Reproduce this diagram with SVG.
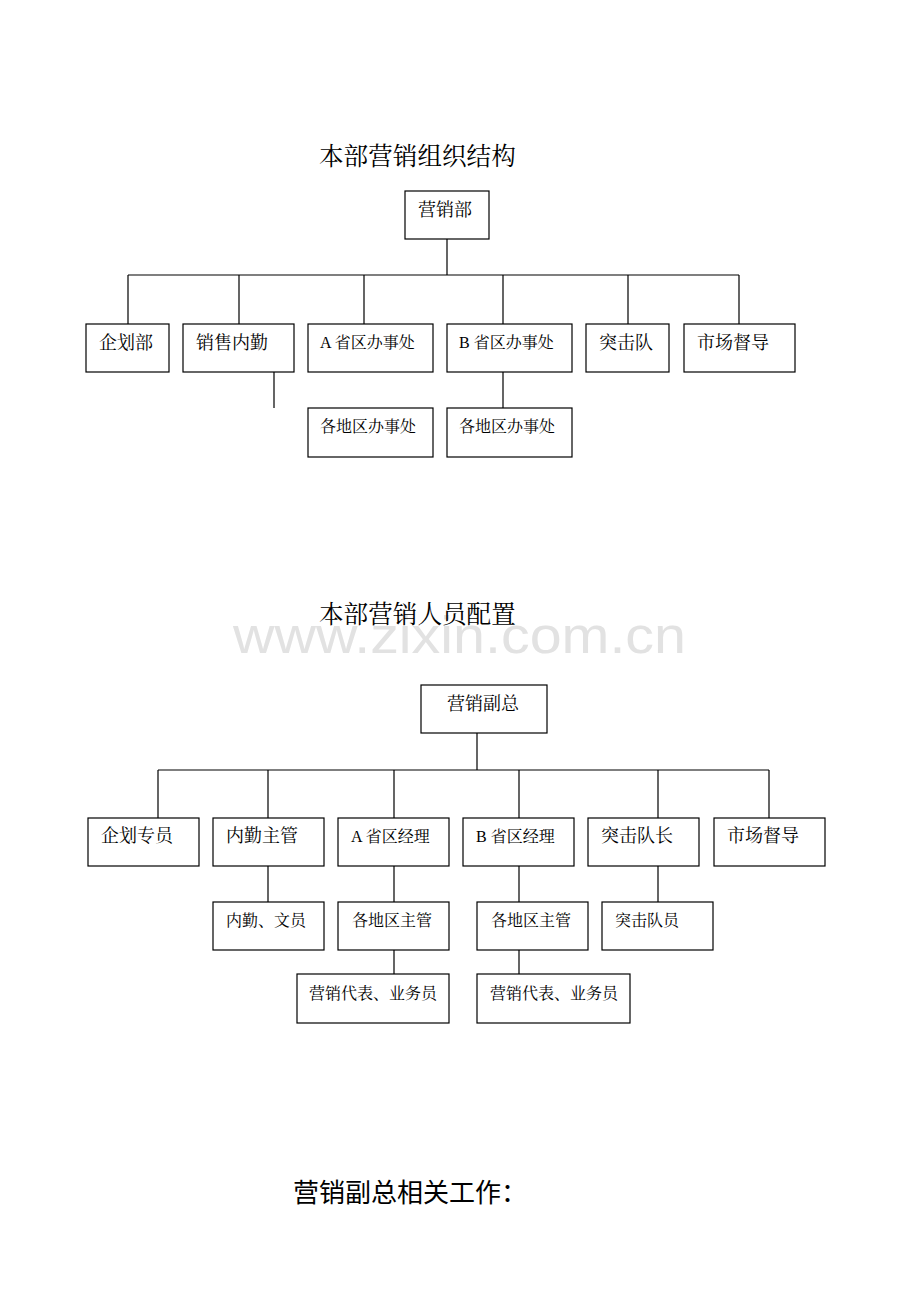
<svg xmlns="http://www.w3.org/2000/svg" width="920" height="1302" viewBox="0 0 920 1302">
<style>
.bg{fill:#fff}
.box{fill:#fff;stroke:#000;stroke-width:1.2}
.ln{stroke:#000;stroke-width:1.2;fill:none}
.t{font-family:"Liberation Serif","Noto Serif CJK SC","Noto Sans CJK SC",serif;fill:#000}
.t18{font-size:18px}
.t16{font-size:16px}
.title{font-family:"Liberation Serif","Noto Serif CJK SC","Noto Sans CJK SC",serif;font-size:24.6px;fill:#000}
.wm{font-family:"Liberation Sans","Noto Sans",sans-serif;font-size:52px;fill:#e2e2e2}
.h3{font-family:"Noto Sans CJK SC",sans-serif;font-size:26px;font-weight:400;fill:#000}
</style>
<rect class="bg" x="0" y="0" width="920" height="1302"/>

<text class="title" x="319" y="165">本部营销组织结构</text>

<g id="connectors1">
<path class="ln" d="M447 239V275M128 275H739M128 275V324M239 275V324M364 275V324M503 275V324M628 275V324M739 275V324M274 372V408M503 372V408"/>
</g>
<g id="n_yxb"><rect class="box" x="405" y="191" width="84" height="48"/><text class="t t18" x="418" y="216">营销部</text></g>
<g id="n_qhb"><rect class="box" x="86" y="324" width="83" height="48"/><text class="t t18" x="99" y="349">企划部</text></g>
<g id="n_xsnq"><rect class="box" x="183" y="324" width="111" height="48"/><text class="t t18" x="196" y="349">销售内勤</text></g>
<g id="n_a"><rect class="box" x="308" y="324" width="125" height="48"/><text class="t t16" x="320" y="348">A 省区办事处</text></g>
<g id="n_b"><rect class="box" x="447" y="324" width="125" height="48"/><text class="t t16" x="459" y="348">B 省区办事处</text></g>
<g id="n_tjd"><rect class="box" x="586" y="324" width="83" height="48"/><text class="t t18" x="599" y="349">突击队</text></g>
<g id="n_scdd"><rect class="box" x="684" y="324" width="111" height="48"/><text class="t t18" x="697" y="349">市场督导</text></g>
<g id="n_gdq1"><rect class="box" x="308" y="408" width="125" height="49"/><text class="t t16" x="320" y="432">各地区办事处</text></g>
<g id="n_gdq2"><rect class="box" x="447" y="408" width="125" height="49"/><text class="t t16" x="459" y="432">各地区办事处</text></g>

<text class="wm" x="233" y="653" textLength="453" lengthAdjust="spacingAndGlyphs">www.zixin.com.cn</text>
<text class="title" x="319" y="623">本部营销人员配置</text>

<g id="connectors2">
<path class="ln" d="M477 733V770M158 770H769M158 770V818M268 770V818M394 770V818M519 770V818M658 770V818M769 770V818M268 866V902M394 866V902M519 866V902M658 866V902M394 950V974M519 950V974"/>
</g>
<g id="m_yxfz"><rect class="box" x="421" y="685" width="126" height="48"/><text class="t t18" x="447" y="710">营销副总</text></g>
<g id="m_qhzy"><rect class="box" x="88" y="818" width="111" height="48"/><text class="t t18" x="101" y="842">企划专员</text></g>
<g id="m_nqzg"><rect class="box" x="213" y="818" width="111" height="48"/><text class="t t18" x="226" y="842">内勤主管</text></g>
<g id="m_a"><rect class="box" x="338" y="818" width="111" height="48"/><text class="t t16" x="351" y="842">A 省区经理</text></g>
<g id="m_b"><rect class="box" x="463" y="818" width="111" height="48"/><text class="t t16" x="476" y="842">B 省区经理</text></g>
<g id="m_tjdz"><rect class="box" x="588" y="818" width="111" height="48"/><text class="t t18" x="601" y="842">突击队长</text></g>
<g id="m_scdd"><rect class="box" x="714" y="818" width="111" height="48"/><text class="t t18" x="727" y="842">市场督导</text></g>
<g id="m_nqwy"><rect class="box" x="213" y="902" width="111" height="48"/><text class="t t16" x="226" y="926">内勤、文员</text></g>
<g id="m_gdqzg1"><rect class="box" x="338" y="902" width="111" height="48"/><text class="t t16" x="352" y="926">各地区主管</text></g>
<g id="m_gdqzg2"><rect class="box" x="477" y="902" width="111" height="48"/><text class="t t16" x="491" y="926">各地区主管</text></g>
<g id="m_tjdy"><rect class="box" x="602" y="902" width="111" height="48"/><text class="t t16" x="615" y="926">突击队员</text></g>
<g id="m_yxdb1"><rect class="box" x="297" y="974" width="152" height="49"/><text class="t t16" x="309" y="999">营销代表、业务员</text></g>
<g id="m_yxdb2"><rect class="box" x="477" y="974" width="153" height="49"/><text class="t t16" x="490" y="999">营销代表、业务员</text></g>

<text class="h3" x="293" y="1202">营销副总相关工作：</text>
</svg>
